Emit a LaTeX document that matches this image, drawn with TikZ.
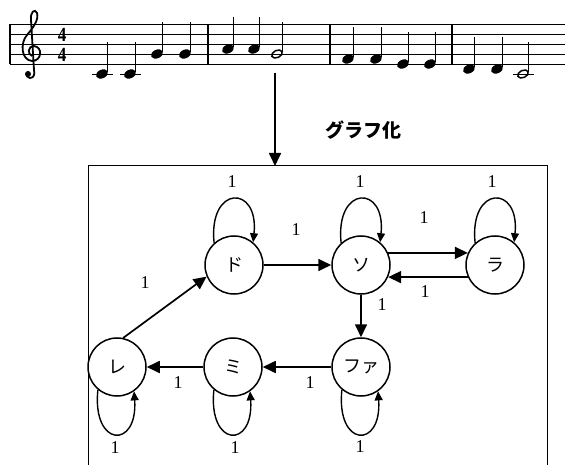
\documentclass[tikz,border=0pt]{standalone}
\usepackage{fontspec}
\setmainfont{Liberation Serif}
\newfontfamily\jp{Noto Sans CJK JP}
\newfontfamily\dvs{DejaVu Sans}
\usetikzlibrary{arrows.meta}
\newif\ifhasclef
\begingroup\dvs\iffontchar\font"1D11E \global\hasceftrue\fi\endgroup
\begin{document}
\begin{tikzpicture}[x=1pt,y=-1pt,
  st/.style={circle,draw,line width=1.5pt,minimum size=58pt,inner sep=0pt,font=\jp\fontsize{18}{18}\selectfont},
  ed/.style={line width=1.7pt,-{Triangle[length=13pt,width=12pt]}},
  lp/.style={line width=1.4pt,-{Triangle[length=9pt,width=8pt]}},
  lb/.style={font=\fontsize{18}{18}\selectfont,inner sep=0pt},
  staffline/.style={line width=1.4pt},
  stem/.style={line width=1.3pt}]
\useasboundingbox (0,0) rectangle (565,465);
% staff
\foreach \i in {0,...,4} \draw[staffline] (10,24.5+10*\i) -- (565,24.5+10*\i);
\foreach \x in {10,208,330,452} \draw[staffline] (\x,24.5) -- (\x,64.5);
% clef
\ifhasclef
  \node (clef) at (31,45) {\dvs\fontsize{64}{64}\selectfont 𝄞};
\else
  \draw[line width=1.8pt] (29,72) .. controls (26,72) and (25,77) .. (30,78) .. controls (34,78) and (35,74) .. (34,70) -- (31,20) .. controls (30,12) and (35,8) .. (37,13) .. controls (39,20) and (33,28) .. (27,35) .. controls (20,43) and (21,60) .. (32,61) .. controls (42,61) and (43,47) .. (34,46) .. controls (28,46) and (27,54) .. (32,56);
  \fill (28,74) circle (3);
\fi
% time signature
\node[font=\bfseries\fontsize{20}{20}\selectfont,inner sep=0pt,xscale=0.85] (ts1) at (62,34.5) {4};
\node[font=\bfseries\fontsize{20}{20}\selectfont,inner sep=0pt,xscale=0.85] (ts2) at (62,54.5) {4};
% notes
\foreach \x/\y in {102/74,130/74,157/54,185/54,228/49,254/49,348/59,376/59,403/64,430/64,469/69,497/69}{
  \fill[rotate around={25:(\x,\y)}] (\x,\y) ellipse [x radius=6.3pt,y radius=4.3pt];
  \draw[stem] (\x+5.6,\y-1.5) -- (\x+5.6,\y-32);
}
\foreach \x/\y in {277/54,523/74}{
  \draw[line width=1.5pt,rotate around={25:(\x,\y)}] (\x,\y) ellipse [x radius=5.6pt,y radius=3.6pt];
  \draw[stem] (\x+5.8,\y-1.5) -- (\x+5.8,\y-32);
}
\foreach \x in {102,130,523} \draw[staffline] (\x-10,74.5) -- (\x+11,74.5);
% arrow to graph
\coordinate (a0) at (275,73);
\coordinate (a1) at (275,166);
\draw[ed] (a0) -- (a1);
\node[font=\jp\bfseries\fontsize{19}{19}\selectfont] (g) at (363,130) {グラフ化};
% box
\draw[line width=1pt] (88,470) -- (88,166) -- (547,166) -- (547,470);
% states
\node[st] (do) at (234,265) {ド};
\node[st] (so) at (361,265) {ソ};
\node[st] (ra) at (495,265) {ラ};
\node[st] (re) at (117,367) {レ};
\node[st] (mi) at (233,367) {ミ};
\node[st] (fa) at (361,367) {ファ};
% edges
\draw[ed] (do.east) -- (so.west);
\draw[ed] (so.24) -- (ra.156);
\draw[ed] (ra.204) -- (so.336);
\draw[ed] (so.south) -- (fa.north);
\draw[ed] (fa.west) -- (mi.east);
\draw[ed] (mi.west) -- (re.east);
\draw[ed] (re.78) -- (do.203);
% loops
\foreach \n in {do,so,ra}
  \draw[lp] (\n.132) .. controls +(-6,-58) and +(6,-58) .. (\n.50);
\foreach \n in {re,mi,fa}
  \draw[lp] (\n.230) .. controls +(-6,58) and +(4,58) .. (\n.305);
% labels
\node[lb] (l1) at (232,182) {1};
\node[lb] (l2) at (360,182) {1};
\node[lb] (l3) at (492,182) {1};
\node[lb] (l4) at (296,230) {1};
\node[lb] (l5) at (424,218) {1};
\node[lb] (l6) at (425,292) {1};
\node[lb] (l7) at (382,305) {1};
\node[lb] (l8) at (310,383) {1};
\node[lb] (l9) at (178,383) {1};
\node[lb] (l10) at (145,283) {1};
\node[lb] (l11) at (115,448) {1};
\node[lb] (l12) at (235,448) {1};
\node[lb] (l13) at (360,447) {1};
\end{tikzpicture}
\end{document}
